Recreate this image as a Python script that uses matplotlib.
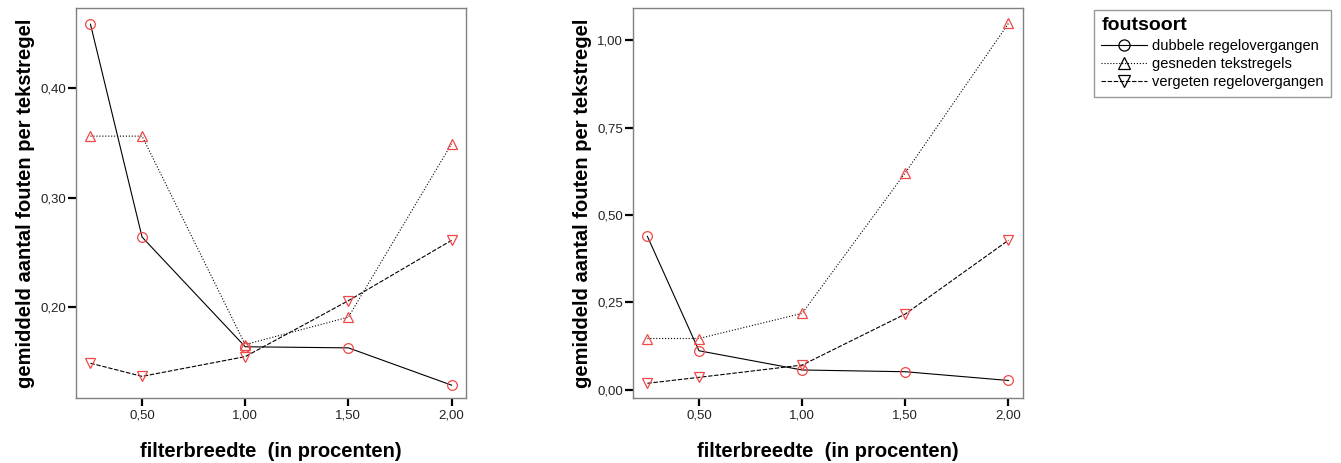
import matplotlib.pyplot as plt
from matplotlib.lines import Line2D

# filter widths (percent)
breedte = [0.25, 0.50, 1.00, 1.50, 2.00]

# left panel: mean errors per text line
links_dubbel = [0.458, 0.264, 0.164, 0.163, 0.129]
links_gesneden = [0.356, 0.356, 0.166, 0.191, 0.349]
links_vergeten = [0.149, 0.137, 0.155, 0.206, 0.261]

# right panel
rechts_dubbel = [0.439, 0.112, 0.057, 0.052, 0.027]
rechts_gesneden = [0.147, 0.147, 0.219, 0.621, 1.048]
rechts_vergeten = [0.019, 0.036, 0.071, 0.217, 0.428]

reeksen = ["dubbele regelovergangen", "gesneden tekstregels", "vergeten regelovergangen"]

x_ticks = [0.50, 1.00, 1.50, 2.00]
x_ticklabels = ["0,50", "1,00", "1,50", "2,00"]
links_yticks = [0.20, 0.30, 0.40]
links_yticklabels = ["0,20", "0,30", "0,40"]
rechts_yticks = [0.00, 0.25, 0.50, 0.75, 1.00]
rechts_yticklabels = ["0,00", "0,25", "0,50", "0,75", "1,00"]

plt.rcParams['font.family'] = ['Liberation Sans', 'DejaVu Sans']

RED = "#f04848"
styles = [("-", "o"), (":", "^"), ((0, (4, 1.5)), "v")]

fig = plt.figure(figsize=(13.41, 4.63), dpi=100)
ax1 = fig.add_axes([0.0567, 0.1397, 0.2908, 0.8423])
ax2 = fig.add_axes([0.4720, 0.1397, 0.2908, 0.8423])


def draw_panel(ax, series, yticks, yticklabels, ylim):
    for vals, (ls, mk) in zip(series, styles):
        ax.plot(breedte, vals, color="black", linestyle=ls, linewidth=0.8)
        ax.plot(breedte, vals, linestyle="none", marker=mk, markersize=7,
                markerfacecolor="none", markeredgecolor=RED, markeredgewidth=0.9)
    ax.set_xlim(0.18, 2.07)
    ax.set_ylim(*ylim)
    ax.set_xticks(x_ticks)
    ax.set_xticklabels(x_ticklabels, fontsize=9.5, color="#222222")
    ax.set_yticks(yticks)
    ax.set_yticklabels(yticklabels, fontsize=9.5, color="#222222")
    ax.tick_params(axis="both", direction="out", length=6, width=1.6, color="black", pad=2)
    ax.tick_params(axis="y", pad=1)
    for sp in ax.spines.values():
        sp.set_color("#808080")
        sp.set_linewidth(1.0)
    ax.set_xlabel("filterbreedte  (in procenten)", fontsize=14.5, fontweight="bold", labelpad=15)
    ax.set_ylabel("gemiddeld aantal fouten per tekstregel", fontsize=14.5, fontweight="bold", labelpad=4)


draw_panel(ax1, [links_dubbel, links_gesneden, links_vergeten],
           links_yticks, links_yticklabels, (0.117, 0.4725))
draw_panel(ax2, [rechts_dubbel, rechts_gesneden, rechts_vergeten],
           rechts_yticks, rechts_yticklabels, (-0.024, 1.091))

handles = [Line2D([], [], color="black", linestyle=ls, linewidth=0.8, marker=mk,
                  markersize=8, markerfacecolor="none", markeredgecolor="black",
                  markeredgewidth=0.9)
           for ls, mk in styles]
leg = fig.legend(handles, reeksen, loc="upper left",
                 bbox_to_anchor=(1094 / 1341, 1 - 10 / 463),
                 title="foutsoort", fontsize=10.5, frameon=True, fancybox=False,
                 handlelength=3.1, handletextpad=0.4, borderpad=0.5, labelspacing=0.3,
                 borderaxespad=0)
leg.get_title().set_fontweight("bold")
leg.get_title().set_fontsize(14)
leg._legend_box.align = "left"
leg.get_frame().set_edgecolor("#808080")
leg.get_frame().set_linewidth(1.0)

fig.savefig("out.png", dpi=100)
